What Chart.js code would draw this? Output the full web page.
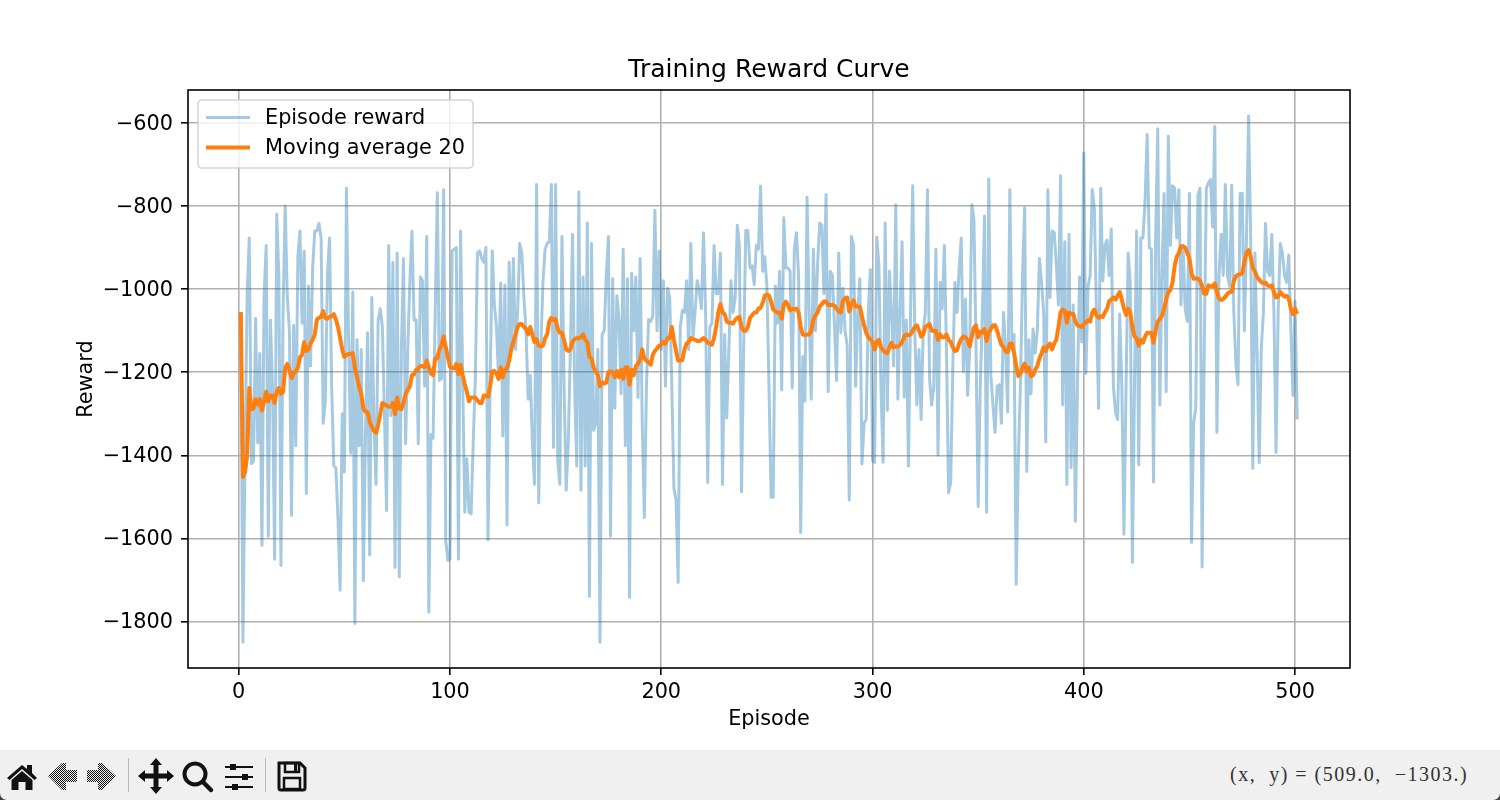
<!DOCTYPE html>
<html>
<head>
<meta charset="utf-8">
<title>Training Reward Curve</title>
<script src="https://cdn.jsdelivr.net/npm/chart.js@4"></script>
<style>
    html, body { margin: 0; padding: 0; background: #fff; width: 1500px; height: 800px; overflow: hidden; }
    #wrap { position: relative; width: 1500px; height: 750px; }
    #bar { width: 1500px; height: 50px; background: linear-gradient(to bottom, #f0f0f0 80%, #444 80%); }
    #toolbar { position: relative; width: 1500px; height: 50px; background: #f0f0f0; border-radius: 0 0 7px 7px; }
    #toolbar svg { position: absolute; left: 0; top: 0; }
    #coords { position: absolute; left: 1230px; top: 13px; font: 20px "Liberation Serif", serif; letter-spacing: 1.5px; color: #333; white-space: pre; }
</style>
</head>
<body>
<div id="wrap"><canvas id="myChart" width="1500" height="750"></canvas></div>
<div id="bar"><div id="toolbar">
    <svg width="320" height="50" viewBox="0 0 320 50">
        <defs>
            <pattern id="dots" width="2" height="2" patternUnits="userSpaceOnUse">
                <rect width="1" height="1" fill="#111"/><rect x="1" y="1" width="1" height="1" fill="#111"/>
            </pattern>
        </defs>
        <!-- home -->
        <path d="M7 28 L22 15 L27 19 L27 15 L32 15 L32 23 L37 28 L34.500 30 L22 19 L9.500 30 Z" fill="#111"/>
        <path d="M11.500 30 L22 21 L32.500 30 L32.500 40 L25.500 40 L25.500 32 L18.500 32 L18.500 40 L11.500 40 Z" fill="#111"/>
        <!-- back -->
        <path d="M48 26 L62 13 L66 13 L66 20 L77 20 L77 32 L66 32 L66 40 L62 40 Z" fill="url(#dots)"/>
        <!-- forward -->
        <path d="M116 26 L102 13 L98 13 L98 20 L87 20 L87 32 L98 32 L98 40 L102 40 Z" fill="url(#dots)"/>
        <rect x="128" y="8" width="1" height="34" fill="#bbb"/>
        <!-- move -->
        <path d="M156 8 L162 15 L158.500 15 L158.500 23.500 L167 23.500 L167 20 L174 26 L167 32 L167 28.500 L158.500 28.500 L158.500 37 L162 37 L156 44 L150 37 L153.500 37 L153.500 28.500 L145 28.500 L145 32 L138 26 L145 20 L145 23.500 L153.500 23.500 L153.500 15 L150 15 Z" fill="#111"/>
        <!-- zoom -->
        <circle cx="195" cy="24" r="10.500" fill="none" stroke="#111" stroke-width="4"/>
        <path d="M203 32 L211 40" stroke="#111" stroke-width="4.500" stroke-linecap="round"/>
        <!-- sliders -->
        <g stroke="#111" stroke-width="2">
            <path d="M225 17 H253 M225 27 H253 M225 37 H253"/>
        </g>
        <rect x="230" y="14" width="6" height="6" fill="#111"/>
        <rect x="242" y="24" width="6" height="6" fill="#111"/>
        <rect x="232" y="34" width="6" height="6" fill="#111"/>
        <rect x="265" y="8" width="1" height="34" fill="#bbb"/>
        <!-- save -->
        <path d="M279 13 H300 L305 18 V38 Q305 40 303 40 H281 Q279 40 279 38 Z" fill="none" stroke="#111" stroke-width="3"/>
        <rect x="285" y="13" width="14" height="9" fill="none" stroke="#111" stroke-width="2.500"/>
        <rect x="294" y="14" width="3" height="7" fill="#111"/>
        <rect x="284" y="28" width="16" height="11" fill="none" stroke="#111" stroke-width="2.500"/>
    </svg>
    <div id="coords">(x,  y) = (509.0,  −1303.)</div>
</div></div>
<script>
var chartTitle = 'Training Reward Curve';
var xLabel = 'Episode';
var yLabel = 'Reward';
var xTicks = [0, 100, 200, 300, 400, 500];
var yTicks = [-1800, -1600, -1400, -1200, -1000, -800, -600];

// Episode reward (episode 1 to 501)
var rewards = [
-1060,-1850,-1400,-1010,-877,-1420,-1415,-1070,-1370,-1155,-1617,-1020,-895,-1595,-1075,-1234,-1650,-820,-967,-1665,
-1056,-800,-1020,-1100,-1545,-1087,-1377,-922,-860,-1082,-909,-1492,-993,-1185,-949,-860,-860,-842,-877,-1323,
-1270,-967,-877,-1234,-1425,-1430,-1555,-1725,-1300,-1440,-757,-1118,-1395,-1007,-1805,-1122,-1377,-1145,-1702,-1350,
-1105,-1640,-1020,-1323,-1470,-1074,-1047,-1091,-1305,-1533,-895,-1305,-935,-1670,-913,-1693,-1145,-926,-1372,-1145,
-984,-860,-1074,-1074,-1372,-971,-980,-1234,-873,-1778,-1350,-1359,-1060,-768,-1220,-1215,-761,-1605,-1653,-1650,
-908,-904,-900,-1650,-860,-1215,-1537,-1408,-1537,-1541,-1368,-1215,-913,-908,-925,-935,-900,-1604,-1234,-908,
-1038,-1091,-1216,-985,-1354,-990,-1568,-935,-1145,-926,-1145,-1056,-890,-913,-1020,-1100,-1265,-1207,-1368,-1470,
-748,-1515,-1145,-984,-904,-890,-886,-748,-1381,-748,-1412,-1470,-873,-1234,-1484,-1368,-1145,-868,-1234,-1426,
-766,-1484,-971,-1426,-841,-1740,-890,-1340,-1323,-1145,-1850,-1109,-1100,-967,-873,-1595,-975,-1287,-1016,-1074,
-1252,-904,-1377,-975,-1742,-962,-1100,-971,-1261,-926,-1323,-1550,-1234,-1073,-1078,-1065,-810,-1100,-908,-1145,
-980,-1234,-998,-1020,-1234,-1480,-1506,-1706,-1091,-1051,-1056,-980,-1145,-890,-1118,-1056,-980,-1002,-1047,-864,
-1056,-1466,-1091,-1082,-895,-1011,-1011,-913,-1470,-1109,-1310,-1145,-980,-1056,-1020,-846,-895,-1488,-1145,-859,
-859,-949,-944,-989,-895,-904,-752,-957,-922,-993,-1234,-1501,-1501,-993,-1082,-957,-1243,-828,-949,-949,
-957,-1238,-904,-864,-967,-1586,-1163,-1270,-779,-1056,-1265,-904,-1100,-940,-841,-846,-1011,-772,-1247,-957,
-967,-1091,-1220,-913,-1105,-998,-1100,-1136,-1508,-873,-895,-1234,-1056,-975,-1421,-1323,-1314,-1056,-953,-1412,
-1417,-875,-940,-1234,-1417,-841,-1292,-957,-1056,-1185,-797,-1265,-1056,-886,-1260,-1074,-1426,-1056,-751,-1100,
-1279,-1145,-1314,-1100,-1056,-761,-1216,-1279,-1234,-904,-1399,-984,-1047,-895,-1145,-1490,-1466,-1190,-984,-1056,
-949,-877,-1198,-1024,-1256,-1145,-797,-833,-1145,-1524,-1234,-1056,-824,-1537,-735,-1207,-1279,-1345,-1234,-1230,
-1323,-1056,-1145,-1296,-761,-1145,-1109,-1711,-1412,-1234,-967,-804,-1439,-1122,-1252,-1096,-1154,-1100,-926,-984,
-1056,-1368,-761,-1020,-860,-864,-940,-1038,-727,-1279,-886,-1470,-868,-1430,-1038,-1559,-1234,-971,-1127,-672,
-1203,-993,-967,-760,-806,-1056,-1287,-757,-980,-895,-882,-967,-855,-1234,-1296,-1314,-1060,-1234,-1590,-1234,
-913,-984,-1658,-1234,-860,-1423,-877,-877,-788,-628,-900,-904,-1464,-877,-614,-1279,-967,-770,-1247,-632,
-895,-751,-757,-877,-761,-1038,-895,-1047,-1078,-770,-1610,-1323,-1287,-775,-757,-1669,-1145,-757,-744,-736,
-851,-608,-1345,-967,-868,-967,-748,-967,-993,-750,-1056,-1181,-1230,-770,-770,-1100,-877,-583,-877,-1432,
-913,-1145,-1418,-1145,-1056,-842,-957,-967,-868,-1056,-1393,-1056,-890,-913,-967,-984,-918,-1091,-1256,-1029,
-1314
];

// Moving average 20
var movingAverage = [
-1055,-1452,-1440,-1400,-1238,-1290,-1287,-1265,-1278,-1265,-1292,-1270,-1247,-1270,-1256,-1256,-1274,-1247,-1238,-1252,
-1247,-1190,-1180,-1194,-1214,-1203,-1198,-1189,-1164,-1158,-1127,-1149,-1145,-1131,-1122,-1109,-1073,-1069,-1067,-1053,
-1069,-1071,-1067,-1065,-1060,-1073,-1091,-1118,-1145,-1163,-1158,-1156,-1156,-1154,-1190,-1212,-1234,-1252,-1287,-1295,
-1296,-1319,-1332,-1341,-1346,-1327,-1301,-1274,-1277,-1280,-1283,-1283,-1274,-1301,-1261,-1287,-1289,-1274,-1252,-1243,
-1234,-1207,-1205,-1194,-1191,-1185,-1185,-1188,-1172,-1189,-1203,-1207,-1167,-1167,-1145,-1136,-1114,-1140,-1163,-1187,
-1189,-1191,-1180,-1205,-1182,-1207,-1229,-1247,-1270,-1261,-1261,-1261,-1268,-1274,-1274,-1256,-1256,-1259,-1234,-1198,
-1197,-1203,-1216,-1188,-1212,-1194,-1190,-1172,-1145,-1127,-1109,-1091,-1084,-1084,-1091,-1096,-1109,-1091,-1109,-1127,
-1120,-1136,-1138,-1136,-1118,-1109,-1078,-1069,-1074,-1072,-1096,-1105,-1105,-1122,-1145,-1149,-1145,-1127,-1120,-1118,
-1118,-1116,-1109,-1122,-1127,-1163,-1167,-1189,-1198,-1207,-1234,-1225,-1227,-1225,-1200,-1198,-1200,-1212,-1197,-1212,
-1194,-1216,-1189,-1188,-1230,-1194,-1207,-1185,-1180,-1170,-1145,-1167,-1172,-1176,-1182,-1158,-1149,-1143,-1136,-1134,
-1127,-1131,-1118,-1118,-1091,-1122,-1149,-1172,-1172,-1170,-1145,-1131,-1127,-1118,-1120,-1122,-1125,-1125,-1122,-1118,
-1122,-1129,-1131,-1134,-1118,-1091,-1056,-1036,-1056,-1060,-1078,-1081,-1081,-1083,-1074,-1069,-1067,-1091,-1100,-1100,
-1091,-1069,-1063,-1057,-1056,-1047,-1045,-1033,-1016,-1013,-1016,-1030,-1049,-1053,-1056,-1056,-1071,-1038,-1030,-1038,
-1051,-1047,-1049,-1047,-1056,-1091,-1109,-1111,-1109,-1109,-1100,-1074,-1063,-1056,-1042,-1036,-1030,-1030,-1038,-1038,
-1038,-1040,-1047,-1054,-1056,-1029,-1022,-1020,-1054,-1036,-1027,-1042,-1042,-1042,-1065,-1087,-1105,-1116,-1120,-1127,
-1145,-1127,-1122,-1140,-1147,-1152,-1154,-1140,-1129,-1140,-1138,-1138,-1134,-1127,-1114,-1109,-1111,-1109,-1100,-1091,
-1087,-1100,-1114,-1109,-1091,-1087,-1084,-1100,-1100,-1100,-1122,-1109,-1116,-1116,-1109,-1122,-1127,-1140,-1149,-1147,
-1131,-1120,-1114,-1116,-1122,-1138,-1114,-1093,-1087,-1116,-1102,-1105,-1096,-1125,-1105,-1096,-1087,-1087,-1100,-1118,
-1134,-1140,-1149,-1152,-1131,-1131,-1154,-1185,-1209,-1203,-1189,-1179,-1198,-1189,-1209,-1207,-1194,-1185,-1167,-1154,
-1140,-1149,-1136,-1131,-1145,-1131,-1122,-1091,-1056,-1049,-1052,-1081,-1056,-1060,-1060,-1078,-1087,-1089,-1091,-1084,
-1081,-1075,-1078,-1056,-1049,-1063,-1069,-1065,-1067,-1056,-1047,-1029,-1025,-1020,-1025,-1016,-1007,-1025,-1047,-1062,
-1047,-1056,-1091,-1114,-1118,-1136,-1122,-1129,-1114,-1105,-1105,-1105,-1129,-1100,-1078,-1072,-1065,-1047,-1025,-1007,
-1002,-984,-944,-922,-913,-897,-897,-900,-913,-926,-962,-975,-974,-975,-980,-993,-1011,-1011,-991,-993,
-993,-986,-1007,-1022,-1026,-1024,-1018,-1011,-1007,-1007,-980,-969,-965,-965,-962,-935,-913,-906,-922,-949,
-957,-971,-977,-983,-986,-984,-991,-993,-991,-1007,-1020,-1018,-1007,-1013,-1018,-1016,-1022,-1047,-1060,-1047,
-1060
];

var episodes = rewards.map(function (v, i) { return i + 1; });

var FONT = '"DejaVu Sans", sans-serif';

// Box round the axes plus the legend, both drawn above the lines like matplotlib does
var framePlugin = {
    id: 'frame',
    afterDraw: function (chart) {
        var c = chart.ctx, a = chart.chartArea;
        c.save();
        c.strokeStyle = '#000';
        c.lineWidth = 1.6;
        c.strokeRect(a.left, a.top, a.right - a.left, a.bottom - a.top);

        // legend
        var x = a.left + 10, y = a.top + 10, w = 275, h = 68;
        c.beginPath();
        c.roundRect(x, y, w, h, 4);
        c.fillStyle = 'rgba(255,255,255,0.8)';
        c.fill();
        c.strokeStyle = 'rgba(204,204,204,0.8)';
        c.lineWidth = 1.6;
        c.stroke();
        c.font = '20.8px ' + FONT;
        c.textBaseline = 'middle';
        chart.data.datasets.forEach(function (ds, i) {
            var ly = y + 17.500 + i * 30;
            c.strokeStyle = ds.borderColor;
            c.lineWidth = ds.borderWidth;
            c.beginPath();
            c.moveTo(x + 8, ly);
            c.lineTo(x + 52, ly);
            c.stroke();
            c.fillStyle = '#000';
            c.fillText(ds.label, x + 67, ly + 1.500);
        });
        c.restore();
    }
};

var ctx = document.getElementById('myChart').getContext('2d');
var chart = new Chart(ctx, {
    type: 'line',
    data: {
        datasets: [{
            label: 'Episode reward',
            data: episodes.map(function (e, i) { return { x: e, y: rewards[i] }; }),
            borderColor: 'rgba(31,119,180,0.4)',
            borderWidth: 3,
            borderJoinStyle: 'round',
            pointRadius: 0,
            tension: 0,
            order: 2
        }, {
            label: 'Moving average 20',
            data: episodes.map(function (e, i) { return { x: e, y: movingAverage[i] }; }),
            borderColor: '#ff7f0e',
            borderWidth: 4,
            borderJoinStyle: 'round',
            pointRadius: 0,
            tension: 0,
            order: 1
        }]
    },
    plugins: [framePlugin],
    options: {
        responsive: false,
        animation: false,
        devicePixelRatio: 1,
        layout: { padding: { left: 0, right: 150, top: 0, bottom: 0 } },
        plugins: {
            legend: { display: false },
            tooltip: { enabled: false },
            title: {
                display: true,
                fullSize: false,
                text: chartTitle,
                color: '#000',
                font: { family: FONT, size: 25, weight: 'normal' },
                padding: { top: 55, bottom: 5 }
            }
        },
        scales: {
            x: {
                type: 'linear',
                min: -24,
                max: 526,
                afterBuildTicks: function (s) { s.ticks = xTicks.map(function (v) { return { value: v }; }); },
                afterFit: function (s) { s.height = 82; },
                grid: { color: '#b0b0b0', lineWidth: 1.6, tickColor: '#000', tickWidth: 1.6, tickLength: 7 },
                border: { display: false },
                ticks: {
                    color: '#000',
                    maxRotation: 0,
                    padding: 5,
                    font: { family: FONT, size: 20.8 }
                },
                title: {
                    display: true,
                    text: xLabel,
                    color: '#000',
                    font: { family: FONT, size: 20.8 },
                    padding: { top: 0, bottom: 18 }
                }
            },
            y: {
                type: 'linear',
                min: -1912,
                max: -520.6,
                afterBuildTicks: function (s) { s.ticks = yTicks.map(function (v) { return { value: v }; }); },
                afterFit: function (s) { s.width = 188; },
                grid: { color: '#b0b0b0', lineWidth: 1.6, tickColor: '#000', tickWidth: 1.6, tickLength: 7 },
                border: { display: false },
                ticks: {
                    color: '#000',
                    padding: 8,
                    labelOffset: 1.5,
                    font: { family: FONT, size: 20.8 },
                    callback: function (v) { return String(v).replace('-', '\u2212'); }
                },
                title: {
                    display: true,
                    text: yLabel,
                    color: '#000',
                    font: { family: FONT, size: 20.8 },
                    padding: { top: 74, bottom: 0 }
                }
            }
        }
    }
});
</script>
</body>
</html>
